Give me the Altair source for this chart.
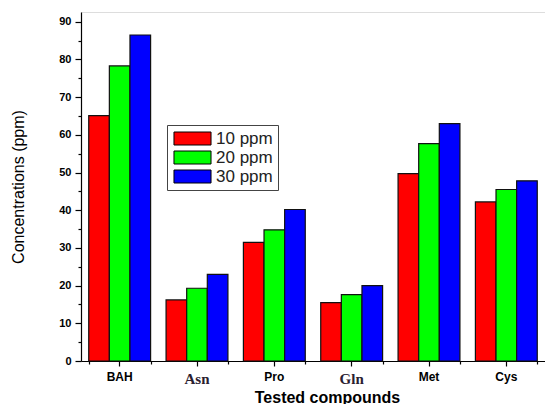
import altair as alt
import pandas as pd

compounds = ["BAH", "Asn", "Pro", "Gln", "Met", "Cys"]
series = ["10 ppm", "20 ppm", "30 ppm"]
v10 = [65.1, 16.2, 31.5, 15.5, 49.7, 42.2]
v20 = [78.3, 19.3, 34.8, 17.6, 57.7, 45.5]
v30 = [86.5, 23.0, 40.2, 20.0, 63.0, 47.8]
colors = ["#FF0000", "#00FF00", "#0000FF"]
y_ticks = [0, 5, 10, 15, 20, 25, 30, 35, 40, 45, 50, 55, 60, 65, 70, 75, 80, 85, 90]

rows = []
for s, vals in zip(series, [v10, v20, v30]):
    for c, v in zip(compounds, vals):
        rows.append({"compound": c, "series": s, "value": v})
df = pd.DataFrame(rows)

serif_test = "datum.value == 'Asn' || datum.value == 'Gln'"

x_main = alt.X(
    "compound:N",
    sort=compounds,
    scale=alt.Scale(paddingInner=0.2, paddingOuter=0.1),
    axis=alt.Axis(
        title="Tested compounds",
        titleFont="Liberation Sans",
        titleFontSize=16,
        titleFontWeight="bold",
        titleColor="black",
        titleX=246,
        titleY=41,
        titleBaseline="alphabetic",
        labelAngle=0,
        labelFont={"condition": {"test": serif_test, "value": "Liberation Serif"}, "value": "Liberation Sans"},
        labelFontSize={"condition": {"test": serif_test, "value": 15}, "value": 12},
        labelColor={"condition": {"test": serif_test, "value": "#2a2030"}, "value": "black"},
        labelFontWeight="bold",
        labelPadding=5,
        labelBaseline="top",
        tickSize=5,
        tickColor="black",
        domainColor="black",
        domainWidth=1.2,
        tickWidth=1.2,
    ),
)

y_main = alt.Y(
    "value:Q",
    scale=alt.Scale(domain=[0, 92.6], nice=False, zero=True),
    axis=alt.Axis(
        title="Concentrations (ppm)",
        titleFont="Liberation Sans",
        titleFontSize=16,
        titleFontWeight="normal",
        titleColor="black",
        titleX=-63,
        titleBaseline="middle",
        values=y_ticks,
        labelExpr="datum.value % 10 === 0 ? datum.label : ''",
        tickSize={"condition": {"test": "datum.value % 10 !== 0", "value": 3}, "value": 6},
        labelFont="Liberation Sans",
        labelFontSize=11,
        labelFontWeight="bold",
        labelColor="black",
        labelPadding=4,
        tickColor="black",
        domainColor="black",
        domainWidth=1.2,
        tickWidth=1.2,
        grid=False,
    ),
)

bars = alt.Chart(df).mark_bar(stroke="#111111", strokeWidth=1.2).encode(
    x=x_main,
    xOffset=alt.XOffset("series:N", sort=series, scale=alt.Scale(paddingInner=0, paddingOuter=0)),
    y=y_main,
    fill=alt.Fill(
        "series:N",
        sort=series,
        scale=alt.Scale(domain=series, range=colors),
        legend=alt.Legend(
            title=None,
            orient="none",
            legendX=86,
            legendY=113,
            strokeColor="#444444",
            fillColor="white",
            padding=5,
            symbolType="M-2.85,-1H2.85V1H-2.85Z",
            symbolSize=169,
            symbolOffset=12,
            symbolStrokeColor="black",
            symbolStrokeWidth=1,
            labelFont="Liberation Sans",
            labelFontSize=17,
            labelColor="#222222",
            labelOffset=15,
            rowPadding=1,
        ),
    ),
)

minor_x = alt.Chart(df).mark_bar(opacity=0).encode(
    x=alt.X(
        "compound:N",
        sort=compounds,
        axis=alt.Axis(
            orient="bottom",
            title=None,
            labels=False,
            domain=False,
            tickBand="extent",
            tickSize=3,
            tickColor="black",
            tickWidth=1.2,
        ),
    ),
    y=y_main,
)

chart = (
    alt.layer(bars, minor_x)
    .resolve_axis(x="independent")
    .properties(
        width=464,
        height=349,
        autosize=alt.AutoSizeParams(type="none"),
        padding={"left": 73, "top": 4, "right": 0, "bottom": 43},
    )
    .configure_view(stroke=None)
    .configure(background="white")
)

chart.save("out.html", embed_options={"renderer": "svg", "actions": False})
